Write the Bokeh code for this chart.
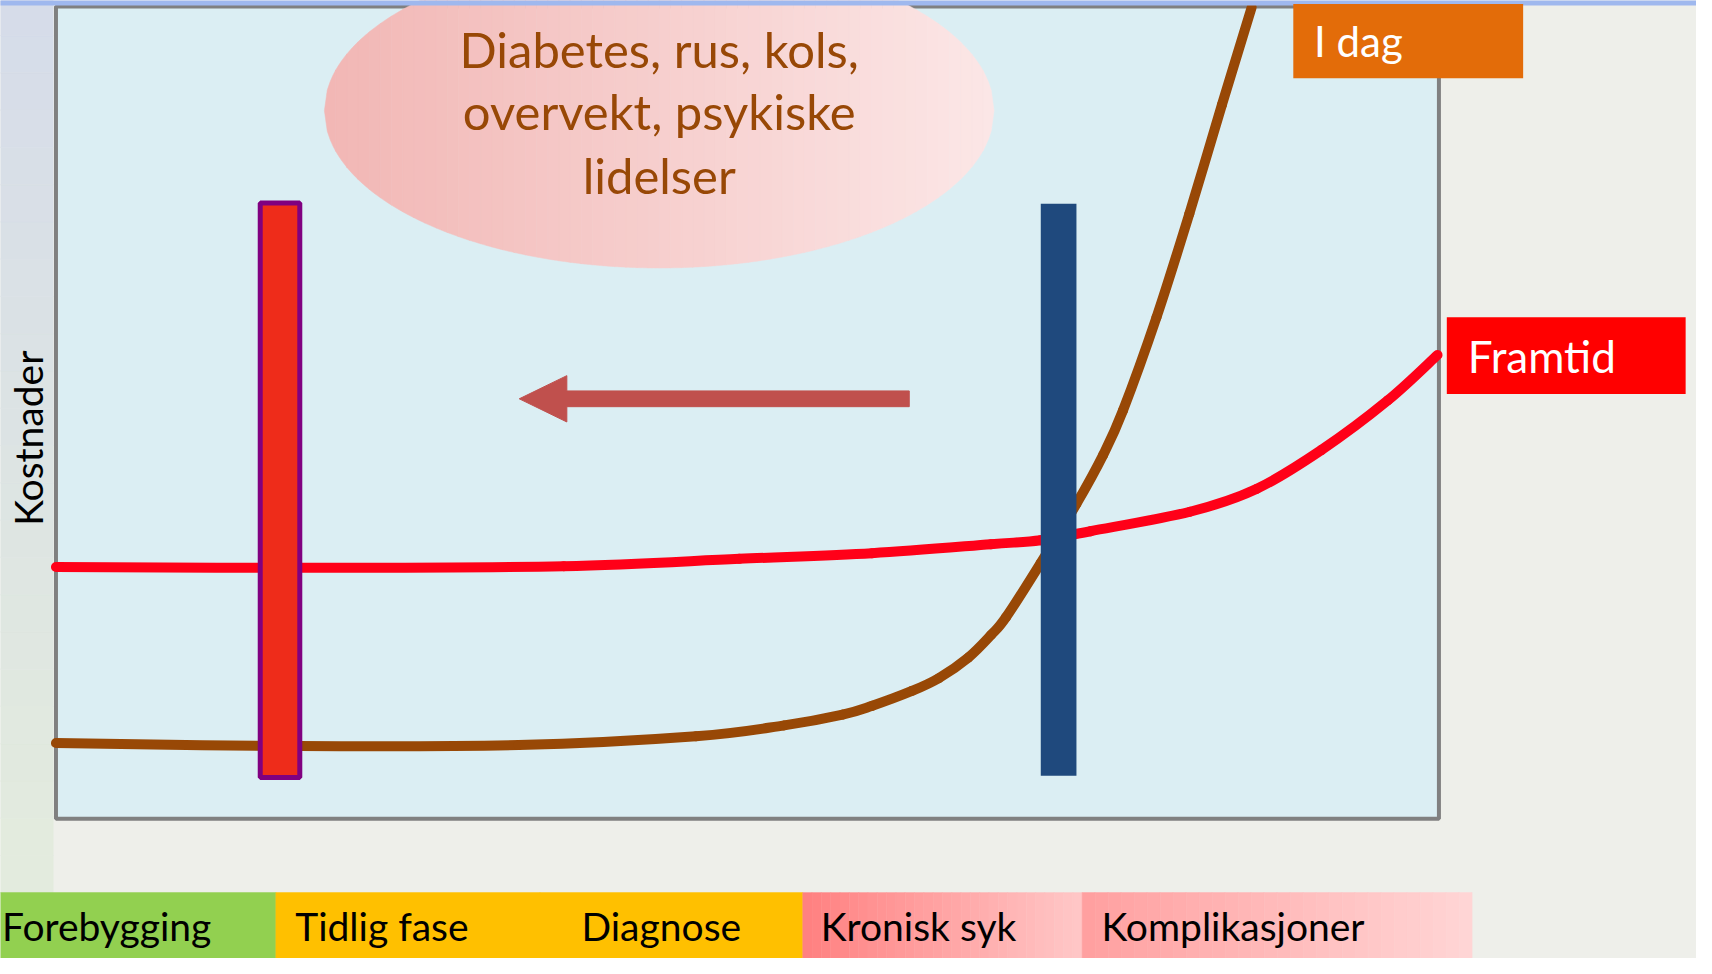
import numpy as np
from bokeh.plotting import figure
from bokeh.models import Range1d
from bokeh.core.properties import value
from bokeh.embed import file_html
from bokeh.resources import INLINE

# ---------------- data (x = course of illness 0..100, y = cost 0..100) ----------------
stage_labels = ["Forebygging", "Tidlig fase", "Diagnose", "Kronisk syk", "Komplikasjoner"]
stage_start = [-4.1, 15.9, 35.0, 54.0, 74.2]
stage_end = [15.9, 35.0, 54.0, 74.2, 102.4]
stage_label_x = [-3.9, 17.3, 38.0, 55.3, 75.6]

# "I dag" (today) cost curve
x_today = [0.0, 17.48, 33.45, 46.28, 52.65, 56.88, 59.03, 61.89, 63.83, 65.97, 67.62, 68.70,
           71.20, 73.78, 75.72, 77.15, 79.58, 81.95, 84.31, 86.46]
cost_today = [9.32, 8.96, 9.08, 10.17, 11.50, 12.83, 13.92, 15.74, 17.31, 19.85, 22.64, 24.82,
              31.48, 38.74, 44.79, 50.24, 61.74, 74.46, 87.89, 99.88]

# "Framtid" (future) cost curve
x_future = [0.0, 17.5, 36.7, 49.4, 59.0, 67.6, 71.2, 74.8, 82.0, 86.8, 91.5, 96.3, 99.9]
cost_future = [31.0, 30.9, 31.1, 32.0, 32.7, 33.8, 34.3, 35.4, 37.8, 40.6, 45.4, 51.5, 57.1]

series_labels = ["I dag", "Framtid"]
y_label = "Kostnader"
bubble_lines = ["Diabetes, rus, kols,", "overvekt, psykiske", "lidelser"]

# intervention markers (x centre, bottom, top)
early_marker = (16.2, 5.1, 75.8)
late_marker = (72.5, 5.3, 75.7)

# shift arrow (from tail x to tip x at level y)
shift_tail, shift_tip, shift_level = 61.7, 33.5, 51.7

# ---------------- styling ----------------
FONT = value("Lato")
BG = "#eeefea"
PLOT_BG = "#dbeef3"
BROWN = "#984806"
RED_LINE = "#ff0018"
TXT_DY = 1.9  # baseline correction for the text renderer

# frame covers the whole page; plot box = [0,100]x[0,100]
p = figure(width=1696, height=958,
           x_range=Range1d(-4.011, 118.625), y_range=Range1d(-17.191, 100.726),
           toolbar_location=None, output_backend="svg", min_border=0,
           x_axis_location=None, y_axis_location=None)
p.grid.visible = False
p.outline_line_color = None
p.background_fill_color = BG
p.border_fill_color = BG

# soft vertical tint on the left margin
m = 24
tb = [-9.1 + (101 + 9.1) * j / m for j in range(m)]
tt = [-9.1 + (101 + 9.1) * (j + 1) / m for j in range(m)]
ta, tz = np.array([228, 236, 222]), np.array([214, 220, 234])
tc = ["#%02x%02x%02x" % tuple((ta + (tz - ta) * (j + 0.5) / m).astype(int)) for j in range(m)]
p.quad(left=-4.2, right=-0.2, bottom=tb, top=tt, fill_color=tc, line_color=tc, line_width=0.5)

# plot box
p.quad(left=0, right=100, bottom=0, top=100, fill_color=PLOT_BG, line_color="#808080", line_width=4)

# bubble with horizontal gradient
cx, cy, a, b = 43.62, 87.17, 24.21, 19.37
n = 60
c0 = np.array([242, 183, 181]); c1 = np.array([252, 231, 231])
xs, ys, cols = [], [], []
for i in range(n):
    xa = cx - a + 2 * a * i / n
    xb = cx - a + 2 * a * (i + 1) / n + 0.02
    xx = np.linspace(xa, min(xb, cx + a), 5)
    h = b * np.sqrt(np.clip(1 - ((xx - cx) / a) ** 2, 0, 1))
    xs.append(list(xx) + list(xx[::-1]))
    ys.append(list(cy + h) + list((cy - h)[::-1]))
    c = (c0 + (c1 - c0) * (i + 0.5) / n).astype(int)
    cols.append("#%02x%02x%02x" % tuple(c))
p.patches(xs=xs, ys=ys, fill_color=cols, line_color=cols, line_width=0.5)

p.text(x=[cx] * 3, y=[92.86 + TXT_DY, 85.23 + TXT_DY, 77.36 + TXT_DY], text=bubble_lines, text_font=FONT,
       text_font_size="49px", text_color=BROWN, text_align="center", text_baseline="alphabetic")


# smooth curves drawn as Bezier segments through the read points
def bezier_through(xv, yv, **kw):
    P = np.column_stack([xv, yv]).astype(float)
    k = len(P)
    x0, y0, x1, y1, cx0, cy0, cx1, cy1 = [], [], [], [], [], [], [], []
    for i in range(k - 1):
        p0, p1, p2, p3 = P[max(i - 1, 0)], P[i], P[i + 1], P[min(i + 2, k - 1)]
        q0 = p1 + (p2 - p0) / 6.0
        q1 = p2 - (p3 - p1) / 6.0
        x0.append(p1[0]); y0.append(p1[1]); x1.append(p2[0]); y1.append(p2[1])
        cx0.append(q0[0]); cy0.append(q0[1]); cx1.append(q1[0]); cy1.append(q1[1])
    p.bezier(x0=x0, y0=y0, x1=x1, y1=y1, cx0=cx0, cy0=cy0, cx1=cx1, cy1=cy1, **kw)


bezier_through(x_future, cost_future, line_color=RED_LINE, line_width=10, line_cap="round")
bezier_through(x_today, cost_today, line_color=BROWN, line_width=10, line_cap="round")

# intervention markers
p.quad(left=early_marker[0] - 1.43, right=early_marker[0] + 1.43, bottom=early_marker[1], top=early_marker[2],
       fill_color="#ee2c1a", line_color="#800080", line_width=5)
p.quad(left=late_marker[0] - 1.29, right=late_marker[0] + 1.29, bottom=late_marker[1], top=late_marker[2],
       fill_color="#1f497d", line_color=None)

# arrow
head_len, head_half, shaft_half = 3.44, 2.85, 0.97
ax = [shift_tail, shift_tip + head_len, shift_tip + head_len, shift_tip,
      shift_tip + head_len, shift_tip + head_len, shift_tail]
ay = [shift_level + shaft_half, shift_level + shaft_half, shift_level + head_half, shift_level,
      shift_level - head_half, shift_level - shaft_half, shift_level - shaft_half]
p.patch(ax, ay, fill_color="#c0504d", line_color="#c0504d", line_width=1)

# top strip
p.quad(left=-4.2, right=119, bottom=100.12, top=101, fill_color="#9fb8ee", line_color=None)

# series label boxes
p.quad(left=89.47, right=106.09, bottom=91.16, top=100.3, fill_color="#e36c09", line_color=None)
p.quad(left=100.57, right=117.84, bottom=52.3, top=61.74, fill_color="#ff0000", line_color=None)
p.text(x=[90.97, 102.08], y=[93.83 + TXT_DY, 55.08 + TXT_DY], text=series_labels, text_font=FONT,
       text_font_size=["42px", "44px"], text_color="white", text_align="left", text_baseline="alphabetic")

# y label
p.text(x=[-2.0], y=[46.85], text=[y_label], angle=np.pi / 2, text_font=FONT,
       text_font_size="39px", text_color="black", text_align="center", text_baseline="middle")

# stage bar
stage_cols = ["#92d050", "#ffc000", "#ffc000", None, None]
for s, e, c in zip(stage_start, stage_end, stage_cols):
    if c is not None:
        p.quad(left=s, right=e, bottom=-18, top=-9.08, fill_color=c, line_color=c, line_width=0.5)
grads = {3: ((255, 128, 128), (255, 200, 200)), 4: ((255, 160, 160), (255, 214, 214))}
for k, (g0, g1) in grads.items():
    mm = 30
    s, e = stage_start[k], stage_end[k]
    lefts = [s + (e - s) * j / mm for j in range(mm)]
    rights = [s + (e - s) * (j + 1) / mm for j in range(mm)]
    gc = ["#%02x%02x%02x" % tuple(int(g0[q] + (g1[q] - g0[q]) * (j + 0.5) / mm) for q in range(3))
          for j in range(mm)]
    p.quad(left=lefts, right=rights, bottom=-18, top=-9.08, fill_color=gc, line_color=gc, line_width=0.5)

p.text(x=stage_label_x, y=[-15.13 + TXT_DY] * 5, text=stage_labels, text_font=FONT,
       text_font_size="39px", text_color="black", text_align="left", text_baseline="alphabetic")

open("out.html", "w").write(file_html(p, INLINE))
